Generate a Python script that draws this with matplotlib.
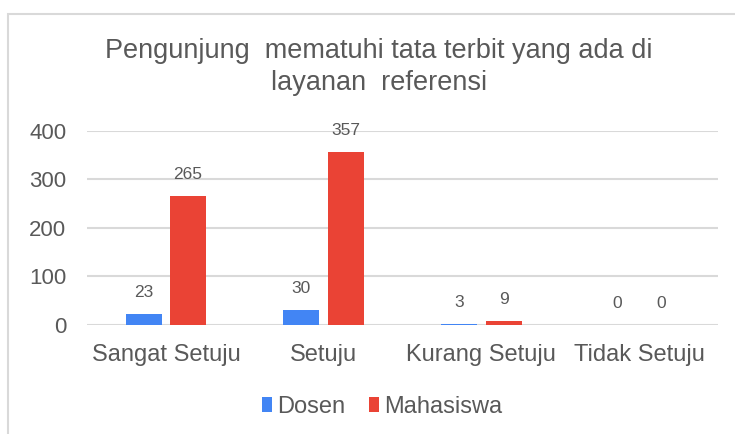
import numpy as np
import matplotlib
matplotlib.use('Agg')
import matplotlib.pyplot as plt
from matplotlib.patches import Rectangle

plt.rcParams['font.family'] = ['Liberation Sans', 'DejaVu Sans']

categories = ['Sangat Setuju', 'Setuju', 'Kurang Setuju', 'Tidak Setuju']
dosen = [23, 30, 3, 0]
mahasiswa = [265, 357, 9, 0]
series_names = ['Dosen', 'Mahasiswa']
yticks = [0, 100, 200, 300, 400]
title = 'Pengunjung  mematuhi tata terbit yang ada di\nlayanan  referensi'

BLUE = '#4285F4'
RED = '#EA4335'
TEXT = '#595959'
GRID = '#D9D9D9'

W, H = 735, 434
fig = plt.figure(figsize=(W / 100, H / 100), dpi=100)

# outer chart frame (only left and top edges visible in the screenshot)
fig.patches.append(Rectangle((8 / W, -0.05), 1.1, (H - 14) / H + 0.05,
                             transform=fig.transFigure, fill=False,
                             edgecolor='#D9D9D9', linewidth=1.5))

ax = fig.add_axes([87 / W, (H - 325) / H, 631 / W, 194.3 / H])
x = np.arange(len(categories))
bw = 0.228
off = 0.141
b1 = ax.bar(x - off, dosen, bw, color=BLUE, label=series_names[0], zorder=3)
b2 = ax.bar(x + off, mahasiswa, bw, color=RED, label=series_names[1], zorder=3)

for bars, vals in ((b1, dosen), (b2, mahasiswa)):
    for rect, v in zip(bars, vals):
        ax.annotate(str(v), (rect.get_x() + rect.get_width() / 2, v),
                    xytext=(0, 15.5), textcoords='offset points',
                    ha='center', va='center', fontsize=12.5, color=TEXT)

ax.set_xlim(-0.5, len(categories) - 0.5)
ax.set_ylim(0, 400)
ax.set_yticks(yticks)
ax.set_xticks(x)
ax.set_xticklabels(categories, fontsize=17, color=TEXT)
ax.tick_params(axis='y', labelsize=16, labelcolor=TEXT, length=0, pad=15)
ax.tick_params(axis='x', length=0, pad=14)
ax.grid(axis='y', color=GRID, linewidth=1.5, zorder=0)
ax.set_axisbelow(True)
for s in ax.spines.values():
    s.set_visible(False)

fig.text(379 / W, 1 - 67 / H, title, ha='center', va='center',
         fontsize=19.5, color=TEXT, linespacing=1.3)

fig.legend(handles=[b1, b2], labels=series_names, loc='center',
           bbox_to_anchor=(382 / W, 1 - 407 / H), ncol=2, frameon=False,
           fontsize=17, labelcolor=TEXT, handlelength=0.45, handleheight=0.6,
           handletextpad=0.2, columnspacing=1.0)

fig.savefig('out.png', dpi=100)
